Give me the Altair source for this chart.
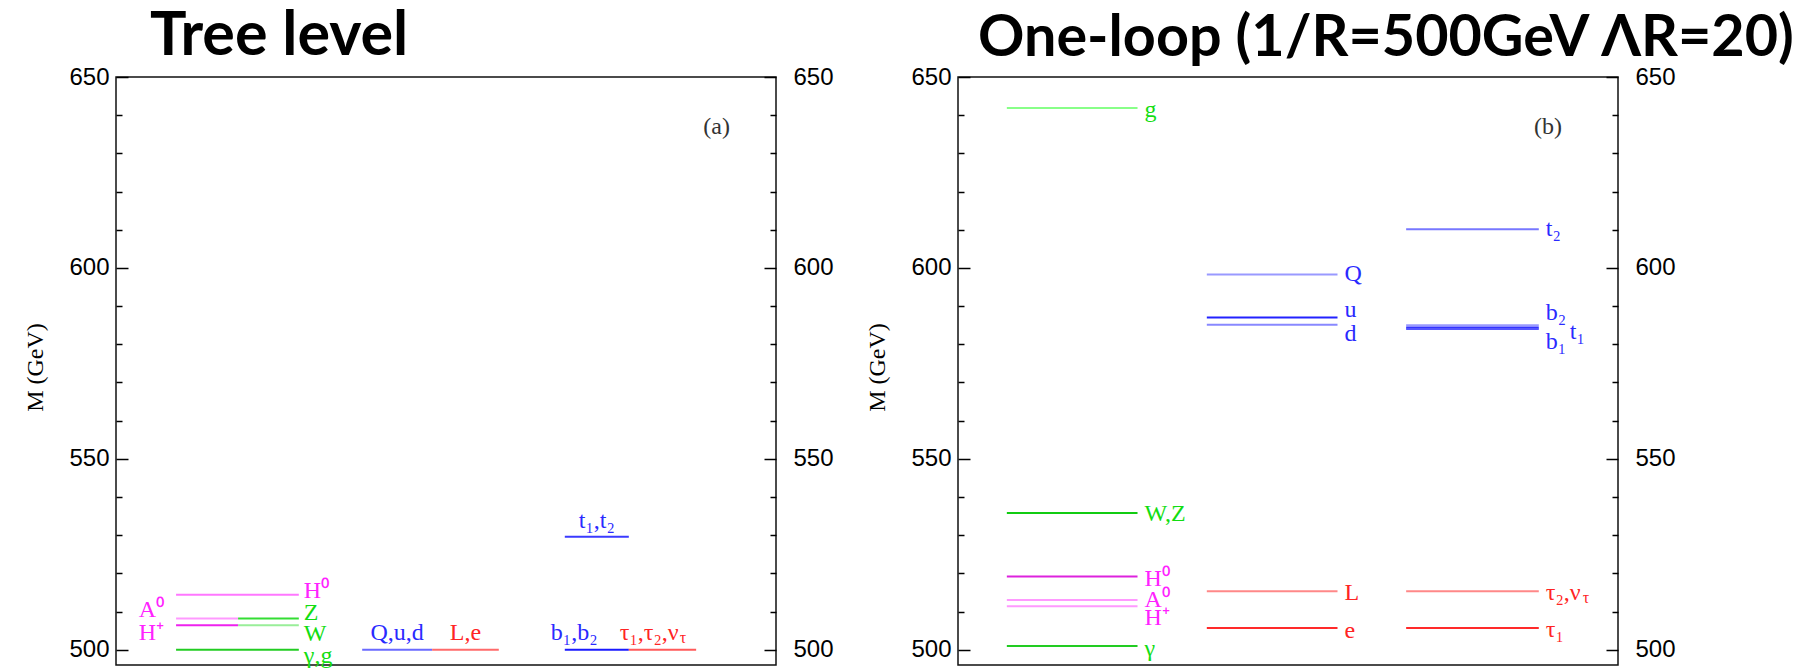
import altair as alt
import pandas as pd

# ---------------- data ----------------
Y_MIN, Y_MAX = 496, 650
MAJOR_TICKS = [500, 550, 600, 650]
MINOR_TICKS = [510, 520, 530, 540, 560, 570, 580, 590, 610, 620, 630, 640]

GREEN, MAGENTA, BLUE, RED = "#12dd12", "#ff22ff", "#2a2aff", "#ff2424"

# column spans (fraction of each panel's width)
A_COLS = {"bos": (0.091, 0.277), "bosL": (0.091, 0.185), "bosR": (0.185, 0.277),
          "q": (0.373, 0.479), "l": (0.479, 0.580),
          "b": (0.680, 0.777), "tau": (0.777, 0.879)}
B_COLS = {"bos": (0.074, 0.272), "fer": (0.377, 0.575), "third": (0.679, 0.880)}

# (a) tree level
a_name = ["H0", "A0", "Z", "H+", "W", "gamma,g", "Q,u,d", "L,e", "b1,b2", "tau", "t1,t2"]
a_mass = [514.4, 508.2, 508.2, 506.4, 506.4, 500.0, 500.0, 500.0, 500.0, 500.0, 529.6]
a_col = ["bos", "bosL", "bosR", "bosL", "bosR", "bos", "q", "l", "b", "tau", "b"]
a_color = ["#ff77ff", "#ff99ff", "#33dd33", "#ee22ee", "#99ee99", "#22cc22",
           "#6a6aff", "#ff6a6a", "#1a1aff", "#ff5a5a", "#3a3aff"]

a_text = ["H⁰", "A⁰", "H⁺", "Z", "W", "γ,g", "Q,u,d", "L,e", "b₁,b₂", "τ₁,τ₂,ν", "τ", "t₁,t₂"]
a_tmass = [514.4, 508.2, 506.4, 508.2, 506.4, 500.0, 500.0, 500.0, 500.0, 500.0, 500.0, 529.6]
a_tcol = ["bos", "bos", "bos", "bos", "bos", "bos", "q", "l", "b", "tau", "tau", "b"]
a_tcolor = [MAGENTA, MAGENTA, MAGENTA, GREEN, GREEN, GREEN, BLUE, RED, BLUE, RED, RED, BLUE]
# label styling: anchor on column, text align, pixel nudges, font size
a_anchor = ["end", "start", "start", "end", "end", "end", "mid", "mid", "start", "start", "start", "mid"]
a_align = ["left", "right", "right", "left", "left", "left", "center", "center", "left", "left", "left", "center"]
a_dx = [5, -12, -12, 5, 5, 5, 0, 0, -14, -9, 51, 0]
a_dy = [-4, -8, 8, -5, 9, 6, -17, -17, -17, -17, -12, -16]
a_size = [24, 24, 24, 24, 24, 24, 24, 24, 24, 24, 16, 24]

# (b) one loop, 1/R = 500 GeV, Lambda R = 20
b_name = ["g", "W,Z", "H0", "A0", "H+", "gamma", "Q", "u", "d", "L", "e",
          "t2", "b2", "t1", "b1", "tau2,nutau", "tau1"]
b_mass = [641.9, 535.8, 519.2, 513.0, 511.4, 501.0, 598.3, 587.0, 585.1, 515.3, 505.7,
          610.1, 585.0, 584.4, 584.0, 515.3, 505.7]
b_col = ["bos"] * 6 + ["fer"] * 5 + ["third"] * 6
b_color = ["#88ff88", "#11cc11", "#dd22dd", "#ff99ff", "#ff99ff", "#22cc22",
           "#9999ff", "#2222ff", "#8888ff", "#ff8888", "#ff2a2a",
           "#7777ff", "#9999ff", "#3333ff", "#5555ff", "#ff8888", "#ff2a2a"]

b_text = ["g", "W,Z", "H⁰", "A⁰", "H⁺", "γ", "Q", "u", "d", "L", "e",
          "t₂", "b₂", "t₁", "b₁", "τ₂,ν", "τ", "τ₁"]
b_tmass = [641.9, 535.8, 519.2, 513.0, 511.4, 501.0, 598.3, 587.0, 585.1, 515.3, 505.7,
           610.1, 585.0, 584.4, 584.0, 515.3, 515.3, 505.7]
b_tcol = ["bos"] * 6 + ["fer"] * 5 + ["third"] * 7
b_tcolor = [GREEN, GREEN, MAGENTA, MAGENTA, MAGENTA, GREEN, BLUE, BLUE, BLUE, RED, RED,
            BLUE, BLUE, BLUE, BLUE, RED, RED, RED]
b_anchor = ["end"] * 18
b_align = ["left"] * 18
b_dx = [7, 7, 7, 7, 7, 7, 7, 7, 7, 7, 7, 7, 7, 31, 7, 7, 44, 7]
b_dy = [2, 1, 3, 0, 12, 3, 0, -8, 9, 2, 3, 0, -12, 5, 13, 2, 7, 2]
b_size = [24] * 16 + [16, 24]

TAG_X = [0.910, 0.894]
TAG_Y = [636.8, 636.8]
TAG_TEXT = ["(a)", "(b)"]

TITLES = ["Tree level", "One-loop (1/R=500GeV ΛR=20)"]
TITLE_SIZES = [61, 57.5]
TITLE_DX = [34, 20]


# ---------------- chart ----------------
def axis(orient, major, with_title=False):
    kw = dict(orient=orient, domain=False, grid=False, tickColor="black",
              tickWidth=1.5, title=None)
    if major:
        kw.update(values=MAJOR_TICKS, tickSize=12, offset=-12, labels=True,
                  labelFont="Liberation Sans", labelFontSize=24, labelColor="black",
                  labelPadding=7 if orient == "left" else 17)
    else:
        kw.update(values=MINOR_TICKS, tickSize=6, offset=-6, labels=False)
    if with_title:
        kw.update(title="M (GeV)", titleFont="Liberation Serif", titleFontSize=24,
                  titleFontWeight="normal", titleColor="black", titleAngle=270,
                  titleX=-93, titleY=290, titleAlign="center", titleBaseline="middle")
    return alt.Axis(**kw)


def panel(names, mass, cols, colors, texts, tmass, tcols, tcolors, anchors, aligns,
          dxs, dys, sizes, colmap, i):
    xs = alt.Scale(domain=[0, 1], nice=False, zero=False)
    ys = alt.Scale(domain=[Y_MIN, Y_MAX], nice=False, zero=False)
    lev = pd.DataFrame({
        "name": names, "mass": mass, "color": colors,
        "x0": [colmap[c][0] for c in cols], "x1": [colmap[c][1] for c in cols]})

    lines = alt.Chart(lev).mark_rule(strokeWidth=2).encode(
        x=alt.X("x0:Q", scale=xs, axis=None), x2="x1:Q",
        y=alt.Y("mass:Q", scale=ys, axis=axis("left", True, True)),
        color=alt.Color("color:N", scale=None),
    )
    ax_layers = []
    for orient, major in [("left", False), ("right", True), ("right", False)]:
        ax_layers.append(alt.Chart(lev).mark_point(opacity=0).encode(
            x=alt.X("x0:Q", scale=xs, axis=None),
            y=alt.Y("mass:Q", scale=ys, axis=axis(orient, major))))

    text_layers = []
    for t, m, c, col, an, al, dx, dy, sz in zip(texts, tmass, tcols, tcolors, anchors,
                                                aligns, dxs, dys, sizes):
        x0, x1 = colmap[c]
        xpos = {"start": x0, "end": x1, "mid": (x0 + x1) / 2}[an]
        df = pd.DataFrame({"label": [t], "mass": [m], "x": [xpos]})
        text_layers.append(alt.Chart(df).mark_text(
            align=al, baseline="middle", dx=dx, dy=dy, font="Liberation Serif",
            fontSize=sz, color=col).encode(
            x=alt.X("x:Q", scale=xs, axis=None),
            y=alt.Y("mass:Q", scale=ys, axis=None),
            text="label:N"))

    tag = alt.Chart(pd.DataFrame({"t": [TAG_TEXT[i]], "x": [TAG_X[i]],
                                  "y": [TAG_Y[i]]})).mark_text(
        font="Liberation Serif", fontSize=24, color="#333333").encode(
        x=alt.X("x:Q", scale=xs, axis=None), y=alt.Y("y:Q", scale=ys, axis=None),
        text="t:N")

    return alt.layer(lines, *ax_layers, *text_layers, tag).resolve_axis(
        y="independent").properties(
        width=660, height=588,
        title=alt.TitleParams(TITLES[i], font="Lato", fontSize=TITLE_SIZES[i],
                              fontWeight="bold", color="black", anchor="start",
                              frame="group", dx=TITLE_DX[i], offset=-3))


pa = panel(a_name, a_mass, a_col, a_color, a_text, a_tmass, a_tcol, a_tcolor,
           a_anchor, a_align, a_dx, a_dy, a_size, A_COLS, 0)
pb = panel(b_name, b_mass, b_col, b_color, b_text, b_tmass, b_tcol, b_tcolor,
           b_anchor, b_align, b_dx, b_dy, b_size, B_COLS, 1)

chart = alt.hconcat(pa, pb, spacing=30).properties(
    padding={"left": 14, "top": -3, "right": 0, "bottom": 0}
).configure_view(stroke="#111111", strokeWidth=1.5).configure_axis(
    titleFont="Liberation Serif", titleFontSize=24, titleFontWeight="normal")

chart.save("out.html", embed_options={"renderer": "svg", "actions": False})
